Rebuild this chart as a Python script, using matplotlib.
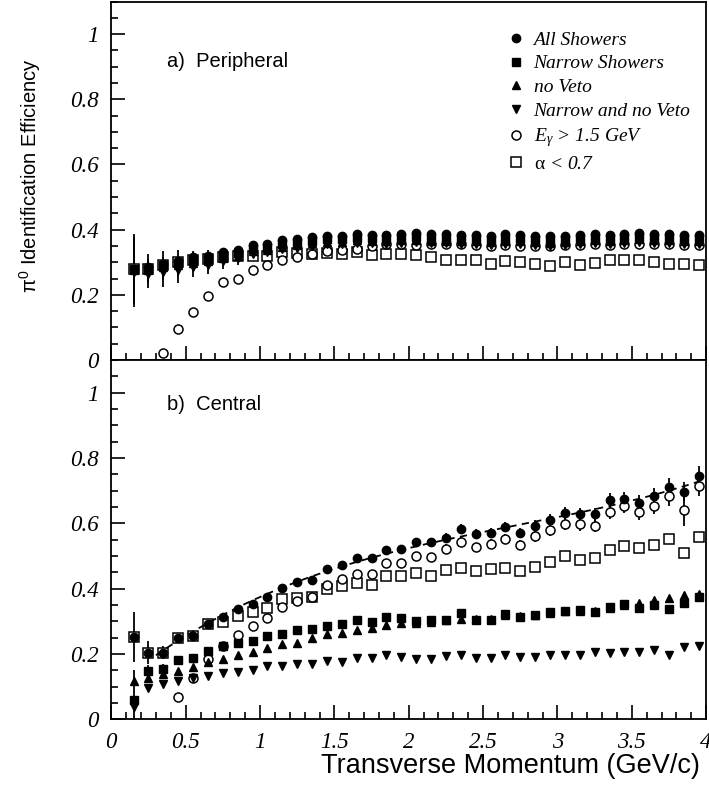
import numpy as np
import matplotlib
matplotlib.use('Agg')
import matplotlib.pyplot as plt
from matplotlib.ticker import MultipleLocator, FormatStrFormatter
from matplotlib.lines import Line2D

plt.rcParams['mathtext.fontset'] = 'custom'
plt.rcParams['mathtext.rm'] = 'Liberation Serif'
plt.rcParams['mathtext.it'] = 'Liberation Serif:italic'
plt.rcParams['mathtext.sf'] = 'Liberation Sans'

# pT bin centres (GeV/c)
pt = np.round(np.arange(0.15, 4.0, 0.1), 2)

# a) Peripheral
per_all = [0.28, 0.285, 0.295, 0.305, 0.315, 0.318, 0.33, 0.338, 0.352, 0.357, 0.367, 0.372, 0.377,
           0.382, 0.382, 0.388, 0.385, 0.385, 0.388, 0.39, 0.386, 0.386, 0.383, 0.383, 0.381, 0.386,
           0.383, 0.381, 0.379, 0.381, 0.383, 0.388, 0.383, 0.388, 0.391, 0.388, 0.388, 0.385, 0.383]
per_narrow = [0.28, 0.28, 0.29, 0.298, 0.305, 0.31, 0.32, 0.328, 0.34, 0.345, 0.355, 0.36, 0.365,
              0.37, 0.37, 0.375, 0.373, 0.372, 0.374, 0.376, 0.372, 0.372, 0.37, 0.37, 0.368, 0.372,
              0.37, 0.368, 0.366, 0.368, 0.37, 0.374, 0.37, 0.374, 0.377, 0.374, 0.374, 0.372, 0.37]
per_noveto = [0.275, 0.275, 0.285, 0.29, 0.298, 0.303, 0.313, 0.32, 0.333, 0.338, 0.348, 0.353, 0.358,
              0.363, 0.363, 0.368, 0.366, 0.365, 0.367, 0.369, 0.366, 0.366, 0.364, 0.364, 0.362, 0.366,
              0.364, 0.362, 0.36, 0.362, 0.364, 0.368, 0.364, 0.368, 0.37, 0.368, 0.368, 0.366, 0.364]
per_both = [0.27, 0.265, 0.27, 0.275, 0.285, 0.29, 0.305, 0.312, 0.325, 0.33, 0.34, 0.345, 0.35,
            0.355, 0.355, 0.36, 0.358, 0.357, 0.359, 0.361, 0.358, 0.358, 0.356, 0.355, 0.354, 0.357,
            0.355, 0.353, 0.351, 0.353, 0.355, 0.359, 0.355, 0.359, 0.361, 0.359, 0.359, 0.357, 0.355]
per_egam = [np.nan, np.nan, 0.02, 0.096, 0.146, 0.196, 0.239, 0.25, 0.275, 0.29, 0.306, 0.316, 0.325,
            0.333, 0.338, 0.342, 0.349, 0.355, 0.355, 0.352, 0.355, 0.357, 0.357, 0.353, 0.35, 0.352,
            0.35, 0.35, 0.35, 0.352, 0.352, 0.355, 0.352, 0.355, 0.357, 0.355, 0.355, 0.352, 0.352]
per_alpha = [0.28, 0.28, 0.29, 0.3, 0.308, 0.31, 0.315, 0.318, 0.32, 0.32, 0.33, 0.327, 0.324,
             0.328, 0.326, 0.331, 0.321, 0.324, 0.326, 0.323, 0.316, 0.308, 0.306, 0.306, 0.296, 0.304,
             0.301, 0.296, 0.287, 0.301, 0.293, 0.299, 0.306, 0.306, 0.308, 0.301, 0.296, 0.294, 0.293]
per_err = [0.108, 0.045, 0.045, 0.04, 0.03, 0.027, 0.025, 0.02, 0.015, 0.015, 0.012, 0.01, 0.01,
           0.01, 0.01, 0.01, 0.01, 0.01, 0.01, 0.01, 0.01, 0.01, 0.01, 0.01, 0.01, 0.01,
           0.01, 0.01, 0.01, 0.01, 0.01, 0.01, 0.01, 0.01, 0.01, 0.01, 0.01, 0.01, 0.01]

# b) Central
cen_all = [0.252, 0.203, 0.203, 0.249, 0.256, 0.293, 0.314, 0.337, 0.353, 0.375, 0.401, 0.419, 0.426,
           0.459, 0.472, 0.495, 0.493, 0.518, 0.520, 0.544, 0.544, 0.556, 0.582, 0.566, 0.569,
           0.588, 0.570, 0.592, 0.610, 0.631, 0.628, 0.628, 0.670, 0.675, 0.662, 0.682, 0.710, 0.697, 0.745]
cen_narrow = [0.06, 0.147, 0.155, 0.181, 0.188, 0.209, 0.225, 0.232, 0.240, 0.256, 0.261, 0.273, 0.275,
              0.286, 0.291, 0.304, 0.297, 0.314, 0.311, 0.301, 0.304, 0.304, 0.326, 0.304, 0.304,
              0.322, 0.314, 0.319, 0.327, 0.331, 0.334, 0.329, 0.345, 0.352, 0.340, 0.349, 0.336, 0.355, 0.375]
cen_noveto = [0.117, 0.125, 0.137, 0.147, 0.160, 0.176, 0.183, 0.196, 0.207, 0.219, 0.229, 0.234, 0.249,
              0.260, 0.265, 0.273, 0.280, 0.288, 0.294, 0.296, 0.299, 0.304, 0.307, 0.308, 0.307,
              0.319, 0.316, 0.318, 0.325, 0.330, 0.332, 0.331, 0.342, 0.350, 0.355, 0.365, 0.370, 0.380, 0.382]
cen_both = [0.038, 0.094, 0.109, 0.117, 0.125, 0.132, 0.142, 0.145, 0.150, 0.164, 0.164, 0.168, 0.169,
            0.178, 0.176, 0.186, 0.186, 0.196, 0.191, 0.183, 0.183, 0.193, 0.198, 0.188, 0.188,
            0.196, 0.191, 0.189, 0.196, 0.198, 0.198, 0.206, 0.204, 0.206, 0.206, 0.212, 0.198, 0.222, 0.225]
cen_egam = [np.nan, np.nan, np.nan, 0.068, 0.125, 0.183, 0.225, 0.258, 0.285, 0.309, 0.343, 0.363, 0.373,
            0.411, 0.428, 0.444, 0.444, 0.479, 0.479, 0.500, 0.498, 0.520, 0.544, 0.526, 0.536,
            0.551, 0.534, 0.561, 0.580, 0.597, 0.597, 0.592, 0.636, 0.654, 0.634, 0.653, 0.682, 0.641, 0.715]
cen_alpha = [0.252, 0.203, 0.203, 0.249, 0.256, 0.293, 0.298, 0.316, 0.327, 0.340, 0.367, 0.371, 0.373,
             0.398, 0.408, 0.416, 0.411, 0.439, 0.437, 0.447, 0.440, 0.457, 0.462, 0.453, 0.459,
             0.462, 0.455, 0.467, 0.481, 0.501, 0.488, 0.495, 0.518, 0.529, 0.525, 0.532, 0.552, 0.508, 0.559]
cen_err = [0.077, 0.035, 0.02, 0.015, 0.012, 0.01, 0.01, 0.01, 0.01, 0.01, 0.01, 0.01, 0.01,
           0.01, 0.01, 0.012, 0.012, 0.012, 0.012, 0.012, 0.012, 0.015, 0.015, 0.015, 0.015,
           0.015, 0.015, 0.018, 0.018, 0.018, 0.02, 0.02, 0.022, 0.022, 0.025, 0.025, 0.028, 0.03, 0.03]
cen_err_egam = [0, 0, 0, 0.01, 0.01, 0.01, 0.01, 0.01, 0.01, 0.01, 0.01, 0.01, 0.01,
                0.01, 0.01, 0.012, 0.012, 0.012, 0.012, 0.012, 0.012, 0.015, 0.015, 0.015, 0.015,
                0.015, 0.015, 0.018, 0.018, 0.018, 0.02, 0.02, 0.022, 0.022, 0.025, 0.025, 0.028, 0.05, 0.03]
cen_err_narrow = [0.09, 0.02, 0.015, 0.01, 0.01, 0.01, 0.01, 0.01, 0.01, 0.01, 0.01, 0.01, 0.01,
                  0.01, 0.01, 0.01, 0.01, 0.01, 0.01, 0.01, 0.01, 0.01, 0.01, 0.01, 0.01,
                  0.01, 0.01, 0.01, 0.01, 0.01, 0.01, 0.01, 0.01, 0.01, 0.012, 0.012, 0.015, 0.015, 0.015]

labels = ['All Showers', 'Narrow Showers', 'no Veto', 'Narrow and no Veto',
          r'$E_{\gamma}$ > 1.5 GeV', r'$\mathrm{\alpha}$ < 0.7']

sty = [dict(marker='o', ms=6, mfc='k', mec='k'),
       dict(marker='s', ms=5.5, mfc='k', mec='k'),
       dict(marker='^', ms=6, mfc='k', mec='k'),
       dict(marker='v', ms=6, mfc='k', mec='k'),
       dict(marker='o', ms=6.5, mfc='white', mec='k', mew=1.1),
       dict(marker='s', ms=6.5, mfc='white', mec='k', mew=1.1)]

fig = plt.figure(figsize=(7.09, 7.86), dpi=100)
ax1 = fig.add_axes([0.157, 0.542, 0.839, 0.456])
ax2 = fig.add_axes([0.157, 0.085, 0.839, 0.457])

def draw(ax, series, errs):
    # open markers drawn first so filled ones sit on top
    order = [5, 4, 3, 2, 1, 0]
    for i in order:
        e = errs[i]
        ax.errorbar(pt, series[i], yerr=e, fmt='none', ecolor='k', elinewidth=1.3, capsize=0, zorder=2)
        ax.plot(pt, series[i], ls='none', color='k', zorder=3, **sty[i])

zero = [0] * len(pt)
draw(ax1, [per_all, per_narrow, per_noveto, per_both, per_egam, per_alpha],
     [zero, per_err, zero, per_err, zero, zero])
draw(ax2, [cen_all, cen_narrow, cen_noveto, cen_both, cen_egam, cen_alpha],
     [cen_err, cen_err_narrow, zero, zero, cen_err_egam, zero])

# fit to All Showers, central
fit = np.polyfit(pt[1:], cen_all[1:], 3)
xf = np.linspace(0.3, 3.95, 200)
ax2.plot(xf, np.polyval(fit, xf), 'k--', lw=1.3, dashes=(4, 3), zorder=4)

for ax in (ax1, ax2):
    ax.set_xlim(0, 4)
    ax.set_ylim(0, 1.1)
    ax.xaxis.set_major_locator(MultipleLocator(0.5))
    ax.xaxis.set_minor_locator(MultipleLocator(0.1))
    ax.yaxis.set_major_locator(MultipleLocator(0.2))
    ax.yaxis.set_minor_locator(MultipleLocator(0.05))
    ax.xaxis.set_major_formatter(FormatStrFormatter('%g'))
    ax.yaxis.set_major_formatter(FormatStrFormatter('%g'))
    ax.tick_params(which='both', direction='in', top=False, right=False, width=1.2)
    ax.tick_params(which='major', length=10)
    ax.tick_params(which='minor', length=5)
    ax.tick_params(axis='y', pad=9)
    ax.tick_params(axis='x', pad=9)
    for lab in ax.get_xticklabels() + ax.get_yticklabels():
        lab.set_fontfamily('Liberation Serif')
        lab.set_fontstyle('italic')
        lab.set_fontsize(16.5)
    for s in ax.spines.values():
        s.set_linewidth(1.3)

ax1.tick_params(axis='x', labelbottom=False)

ax1.text(0.376, 0.917, 'a)  Peripheral', fontsize=14.5, family='Liberation Sans', va='center')
ax2.text(0.376, 0.963, 'b)  Central', fontsize=14.5, family='Liberation Sans', va='center')

handles = [Line2D([], [], ls='none', color='k', **s) for s in sty]
leg = ax1.legend(handles, labels, loc='upper left', bbox_to_anchor=(0.664, 0.918), frameon=False,
                 borderpad=0, borderaxespad=0, handlelength=1.0, handletextpad=0.4, labelspacing=0.32,
                 prop={'family': 'Liberation Serif', 'style': 'italic', 'size': 14})

fig.text(0.042, 0.777, r'$\mathsf{\pi^0}$ Identification Efficiency', rotation=90,
         ha='center', va='center', fontsize=14.5, family='Liberation Sans')
fig.text(0.987, 0.026, 'Transverse Momentum (GeV/c)', ha='right', va='center',
         fontsize=19.5, family='Liberation Sans')

fig.savefig('out.png', dpi=100)
